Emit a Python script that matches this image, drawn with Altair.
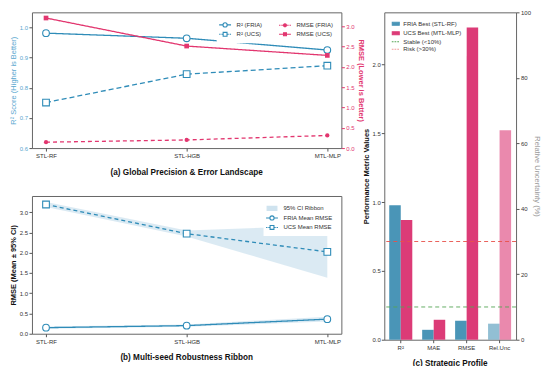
import altair as alt
import pandas as pd

# ---------------- data ----------------
models = ["STL-RF", "STL-HGB", "MTL-MLP"]
r2_fria = [0.981, 0.964, 0.925]
r2_ucs = [0.751, 0.845, 0.873]
rmse_fria = [0.145, 0.20, 0.31]
rmse_ucs = [3.20, 2.51, 2.28]

mean_fria = [0.15, 0.20, 0.36]
lo_fria = [0.12, 0.17, 0.30]
hi_fria = [0.18, 0.23, 0.42]
mean_ucs = [3.19, 2.47, 2.02]
lo_ucs = [3.13, 2.40, 1.38]
hi_ucs = [3.25, 2.55, 2.67]

metrics = ["R²", "MAE", "RMSE", "Rel.Unc"]
fria_best = [0.978, 0.072, 0.138, 4.9]
ucs_best = [0.87, 0.145, 2.27, 64.0]
thresholds = [10, 30]

# ---------------- style ----------------
FONT = "Liberation Sans"
BLUE = "#2f8cb8"
BLUE_LBL = "#5aa7cf"
PINK = "#e2366f"
BAR_BLUE = "#4a95b7"
BAR_PINK = "#dc3b77"
RIB = "#cfe3ef"
GREEN = "#55a555"
RED = "#e8504a"

# legend symbol paths (line + marker), wider than the symbol box
P_CIRC_SOLID = "M-1.7,0H-0.6M0.6,0H1.7M0.6,0A0.6,0.6,0,1,1,-0.6,0A0.6,0.6,0,1,1,0.6,0Z"
P_SQ_DASH = "M-1.7,0H-1.3M-1.05,0H-0.6M0.6,0H1.05M1.3,0H1.7M-0.55,-0.55H0.55V0.55H-0.55Z"
P_CIRC_DASH = "M-1.7,0H-1.3M-1.05,0H-0.6M0.6,0H1.05M1.3,0H1.7M0.42,0A0.42,0.42,0,1,1,-0.42,0A0.42,0.42,0,1,1,0.42,0Z"
P_SQ_SOLID = "M-1.7,0H-0.45M0.45,0H1.7M-0.42,-0.42H0.42V0.42H-0.42Z"
P_RECT = "M-1.4,-0.6H1.4V0.6H-1.4Z"
P_DASHLINE = "M-1.6,0H-0.9M-0.5,0H0.2M0.6,0H1.3"

IND = dict(stroke="independent", fill="independent", shape="independent")


def legend_layer(labels, shapes, strokes, fills, orient, columns=1, size=64,
                 label_offset=6, col_pad=8):
    df = pd.DataFrame({"lg": labels})
    lg = alt.Legend(title=None, orient=orient, columns=columns, offset=4,
                    labelFontSize=6, labelFont=FONT, labelColor="#333",
                    symbolSize=size, symbolStrokeWidth=1.1, rowPadding=0.5,
                    columnPadding=col_pad, padding=4, fillColor="white",
                    labelOffset=label_offset)
    sc = lambda rng: alt.Scale(domain=labels, range=rng)
    return alt.Chart(df).mark_point(opacity=1).encode(
        shape=alt.Shape("lg:N", scale=sc(shapes), legend=lg),
        stroke=alt.Stroke("lg:N", scale=sc(strokes), legend=lg),
        fill=alt.Fill("lg:N", scale=sc(fills), legend=lg),
    ).transform_filter("false")


X_a = alt.X("model:N", sort=models, scale=alt.Scale(type="point", padding=0.1),
            axis=alt.Axis(title=None, labelAngle=0))

# ---------------- panel (a) ----------------
df_a = pd.DataFrame({
    "model": models * 2,
    "kind": ["FRIA"] * 3 + ["UCS"] * 3,
    "r2": r2_fria + r2_ucs,
    "rmse": rmse_fria + rmse_ucs,
})

Y_r2 = alt.Y("r2:Q", scale=alt.Scale(domain=[0.6, 1.05], nice=False, zero=False),
             axis=alt.Axis(orient="left", values=[0.6, 0.7, 0.8, 0.9, 1.0], format=".1f",
                           title="R² Score (Higher is Better)", labelColor=BLUE_LBL,
                           titleColor=BLUE_LBL, titleFontWeight="normal"))
Y_rmse = alt.Y("rmse:Q", scale=alt.Scale(domain=[0, 3.34], nice=False),
               axis=alt.Axis(orient="right", values=[0, 0.5, 1.0, 1.5, 2.0, 2.5, 3.0], format=".1f",
                             title="RMSE (Lower is Better)", labelColor=PINK, titleColor=PINK,
                             tickColor=PINK, titleFontWeight="bold"))


def series(df, kind, y, color, dash, shape, size, open_marker):
    base = alt.Chart(df).transform_filter(alt.datum.kind == kind).encode(x=X_a, y=y)
    line = base.mark_line(color=color, strokeWidth=1.3, strokeDash=dash)
    if open_marker:
        pts = base.mark_point(shape=shape, size=size, filled=True, fill="white",
                              stroke=color, strokeWidth=1.1, opacity=1)
    else:
        pts = base.mark_point(shape=shape, size=size, filled=True, color=color, opacity=1)
    return [line, pts]


r2_layer = alt.layer(*(series(df_a, "FRIA", Y_r2, BLUE, [1, 0], "circle", 45, True)
                       + series(df_a, "UCS", Y_r2, BLUE, [5, 3], "square", 45, True)))
rmse_layer = alt.layer(*(series(df_a, "FRIA", Y_rmse, PINK, [4, 3], "circle", 18, False)
                         + series(df_a, "UCS", Y_rmse, PINK, [1, 0], "square", 22, False)))

leg_a = legend_layer(
    ["R² (FRIA)", "R² (UCS)", "RMSE (FRIA)", "RMSE (UCS)"],
    [P_CIRC_SOLID, P_SQ_DASH, P_CIRC_DASH, P_SQ_SOLID],
    [BLUE, BLUE, PINK, PINK],
    ["white", "white", PINK, PINK],
    orient="top-right", columns=2, size=49, label_offset=7, col_pad=14)

panel_a = alt.layer(r2_layer, rmse_layer, leg_a).resolve_scale(y="independent").properties(
    width=310, height=136,
    title=alt.TitleParams("(a) Global Precision & Error Landscape", orient="bottom",
                          anchor="middle", frame="group", fontSize=8.2, fontWeight="bold",
                          font=FONT, offset=10, color="#111"))

# ---------------- panel (b) ----------------
df_b = pd.DataFrame({
    "model": models * 2,
    "kind": ["FRIA"] * 3 + ["UCS"] * 3,
    "mean": mean_fria + mean_ucs,
    "lo": lo_fria + lo_ucs,
    "hi": hi_fria + hi_ucs,
})
SC_B = alt.Scale(domain=[0, 3.4], nice=False)
AX_B = alt.Axis(values=[0, 0.5, 1.0, 1.5, 2.0, 2.5, 3.0], format=".1f",
                title="RMSE (Mean ± 95% CI)", titleFontWeight="bold")
Y_b = alt.Y("mean:Q", scale=SC_B, axis=AX_B)


def ribbon(kind):
    return alt.Chart(df_b).transform_filter(alt.datum.kind == kind).mark_area(
        color=RIB, opacity=0.75).encode(
        x=X_a, y=alt.Y("lo:Q", scale=SC_B, axis=AX_B), y2="hi:Q")


def mean_series(kind, dash, shape):
    base = alt.Chart(df_b).transform_filter(alt.datum.kind == kind).encode(x=X_a, y=Y_b)
    return [base.mark_line(color=BLUE, strokeWidth=1.3, strokeDash=dash),
            base.mark_point(shape=shape, size=45, filled=True, fill="white", stroke=BLUE,
                            strokeWidth=1.1, opacity=1)]


leg_b = legend_layer(
    ["95% CI Ribbon", "FRIA Mean RMSE", "UCS Mean RMSE"],
    [P_RECT, P_CIRC_SOLID, P_SQ_DASH],
    [RIB, BLUE, BLUE],
    [RIB, "white", "white"],
    orient="top-right", columns=1, size=49, label_offset=7)

panel_b = alt.layer(ribbon("UCS"), ribbon("FRIA"),
                    *mean_series("UCS", [4, 3], "square"),
                    *mean_series("FRIA", [1, 0], "circle"),
                    leg_b).properties(
    width=310, height=138,
    title=alt.TitleParams("(b) Multi-seed Robustness Ribbon", orient="bottom",
                          anchor="middle", frame="group", fontSize=8.2, fontWeight="bold",
                          font=FONT, offset=10, color="#111"))

# ---------------- panel (c) ----------------
df_c = pd.DataFrame({
    "metric": metrics * 2,
    "group": ["FRIA"] * 4 + ["UCS"] * 4,
    "value": fria_best + ucs_best,
})
X_c = alt.X("metric:N", scale=alt.Scale(domain=metrics, paddingInner=0.3, paddingOuter=0.15),
            axis=alt.Axis(title=None, labelAngle=0))
XO = alt.XOffset("group:N", scale=alt.Scale(domain=["FRIA", "UCS"]))
COL = alt.Color("group:N", scale=alt.Scale(domain=["FRIA", "UCS"], range=[BAR_BLUE, BAR_PINK]),
                legend=None)

Y_cl = alt.Y("value:Q", scale=alt.Scale(domain=[0, 2.38], nice=False),
             axis=alt.Axis(orient="left", values=[0, 0.5, 1.0, 1.5, 2.0], format=".1f",
                           title="Performance Metric Values", titleFontWeight="bold",
                           labelPadding=1, titlePadding=1))
Y_cr = alt.Y("value:Q", scale=alt.Scale(domain=[0, 100], nice=False),
             axis=alt.Axis(orient="right", values=[0, 20, 40, 60, 80, 100],
                           title="Relative Uncertainty (%)", titleFontWeight="normal",
                           titleColor="#999"))

left_bars = alt.Chart(df_c).transform_filter(alt.datum.metric != "Rel.Unc").mark_bar().encode(
    x=X_c, xOffset=XO, y=Y_cl, color=COL)
right_bars = alt.Chart(df_c).transform_filter(alt.datum.metric == "Rel.Unc").mark_bar(
    opacity=0.6).encode(x=X_c, xOffset=XO, y=Y_cr, color=COL)
rule_stable = alt.Chart(pd.DataFrame({"value": [thresholds[0]]})).mark_rule(
    color=GREEN, strokeDash=[4, 3], strokeWidth=0.9).encode(y=Y_cr)
rule_risk = alt.Chart(pd.DataFrame({"value": [thresholds[1]]})).mark_rule(
    color=RED, strokeDash=[4, 3], strokeWidth=0.9).encode(y=Y_cr)

leg_c = legend_layer(
    ["FRIA Best (STL-RF)", "UCS Best (MTL-MLP)", "Stable (<10%)", "Risk (>30%)"],
    [P_RECT, P_RECT, P_DASHLINE, P_DASHLINE],
    [BAR_BLUE, BAR_PINK, GREEN, "#f09a9a"],
    [BAR_BLUE, BAR_PINK, "transparent", "transparent"],
    orient="top-left", columns=1, size=25, label_offset=4)

panel_c = alt.layer(left_bars, alt.layer(right_bars, rule_stable, rule_risk), leg_c).resolve_scale(
    y="independent").properties(
    width=132, height=328,
    title=alt.TitleParams("(c) Strategic Profile", orient="bottom",
                          anchor="middle", frame="group", fontSize=8.2, fontWeight="bold",
                          font=FONT, offset=10, color="#111"))

chart = alt.hconcat(
    alt.vconcat(panel_a, panel_b, spacing=18).resolve_scale(**IND).resolve_legend(
        stroke="independent", fill="independent", shape="independent"),
    panel_c,
    spacing=-3,
).resolve_scale(**IND).resolve_legend(
    stroke="independent", fill="independent", shape="independent"
).properties(
    padding={"left": 0, "top": 0, "right": 0, "bottom": 0}
).configure_view(
    stroke="#666", strokeWidth=1
).configure_axis(
    labelFont=FONT, titleFont=FONT, labelFontSize=6, titleFontSize=7.5,
    tickSize=3, tickColor="#555", labelColor="#333", titleColor="#111",
    domain=False, grid=False, labelPadding=1.5, titlePadding=2
).configure_legend(labelFont=FONT)

chart.save("out.html", embed_options={"renderer": "svg", "actions": False})
